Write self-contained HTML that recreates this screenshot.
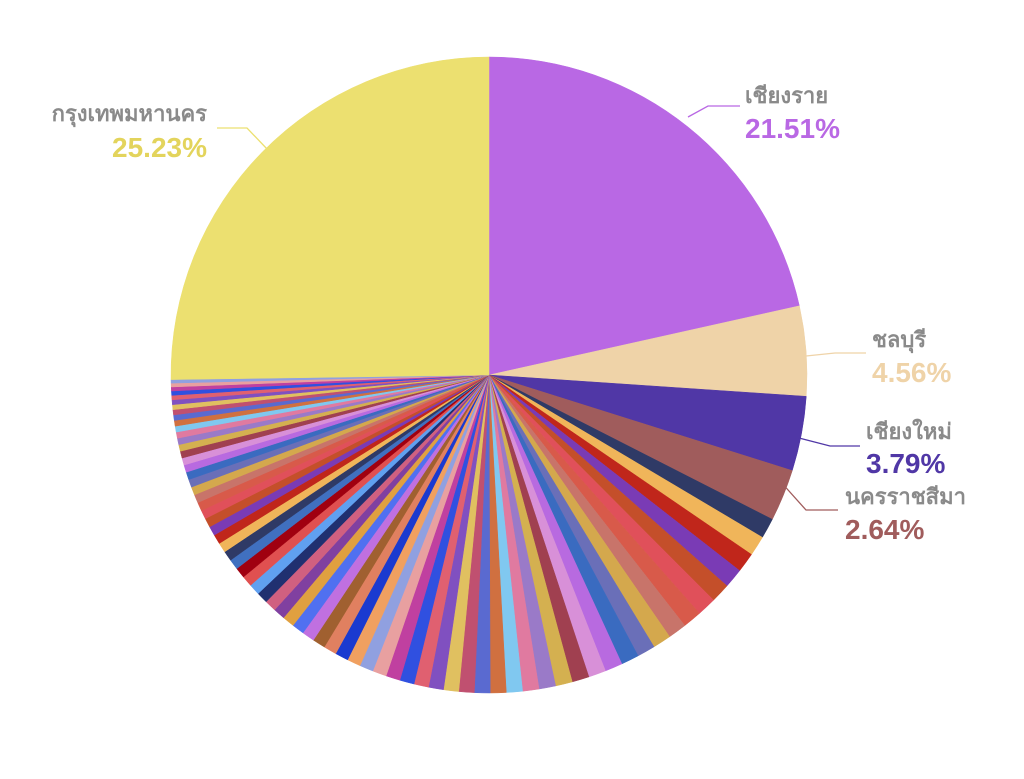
<!DOCTYPE html>
<html><head><meta charset="utf-8"><style>
body{margin:0;background:#fff;width:1024px;height:779px;overflow:hidden}
svg{display:block}
.n{font-family:"Liberation Sans","Noto Sans CJK SC",sans-serif;font-size:22px;fill:#8a8a8a;font-weight:bold}
.p{font-family:"Liberation Sans",sans-serif;font-size:28px;font-weight:bold}
</style></head><body>
<svg id="s" width="1024" height="779" viewBox="0 0 1024 779">
<g id="pie"></g>
<g fill="none" stroke-width="1.3">
<polyline points="688,117 708,106 740,106" stroke="#b968e4"/>
<polyline points="268,150 247,128 217,128" stroke="#ece070"/>
<polyline points="806,356 835,353 866,353" stroke="#efd3a8"/>
<polyline points="799,438 830,446 860,446" stroke="#5037a6"/>
<polyline points="780,481 806,510 838,510" stroke="#a05c5c"/>
</g>
<text class="n" x="745" y="103">เชียงราย</text>
<text class="p" x="745" y="138" fill="#b968e4">21.51%</text>
<text class="n" x="207" y="121" text-anchor="end">กรุงเทพมหานคร</text>
<text class="p" x="207" y="157" text-anchor="end" fill="#e3d45c">25.23%</text>
<text class="n" x="872" y="347">ชลบุรี</text>
<text class="p" x="872" y="382" fill="#efd3a8">4.56%</text>
<text class="n" x="866" y="439">เชียงใหม่</text>
<text class="p" x="866" y="473" fill="#5037a6">3.79%</text>
<text class="n" x="845" y="504">นครราชสีมา</text>
<text class="p" x="845" y="539" fill="#a05c5c">2.64%</text>
</svg>
<script>
var cx=489,cy=375,r=318;
var data=[[21.51,"#b968e4"],[4.56,"#efd3a8"],[3.79,"#5037a6"],[2.64,"#a05c5c"]];
var pal=["#2f3a66","#f0b55a","#c0261b","#7a3bb5","#c44f2a","#e0505a","#d85a4a","#c8746a","#d4a84d","#6a6fb8","#3a6bc0","#b86ae0","#d890d8","#a04050","#d4b050","#9a7ac8","#e07aa0","#80c8f0","#d07040","#5a6ad0","#c05070","#e0c060","#8050c0","#e06070","#3050e0","#c040a0","#e8a0a0","#90a0e0","#f0a060","#1a3ad0","#e08060","#a06030","#c070e0","#5070f0","#e0a040","#8040a0","#d06080","#203070","#60a0f0","#e05050","#a00010","#4070c0"];
var n=70,rest=100-25.23-21.51-4.56-3.79-2.64,sum=0,w=[];
for(var i=0;i<n;i++){var v=1.15-0.95*i/(n-1);w.push(v);sum+=v;}
for(var i=0;i<n;i++)data.push([w[i]*rest/sum,pal[i%pal.length]]);
data.push([25.23,"#ece070"]);
var a=0,h="";
function pt(t){var q=t/100*2*Math.PI;return (cx+r*Math.sin(q)).toFixed(2)+","+(cy-r*Math.cos(q)).toFixed(2);}
data.forEach(function(d){var b=a+d[0];h+='<path d="M'+cx+','+cy+' L'+pt(a)+' A'+r+','+r+' 0 '+(d[0]>50?1:0)+' 1 '+pt(b)+' Z" fill="'+d[1]+'" stroke="'+d[1]+'" stroke-width="0.5"/>';a=b;});
document.getElementById("pie").innerHTML=h;
</script>
</body></html>
